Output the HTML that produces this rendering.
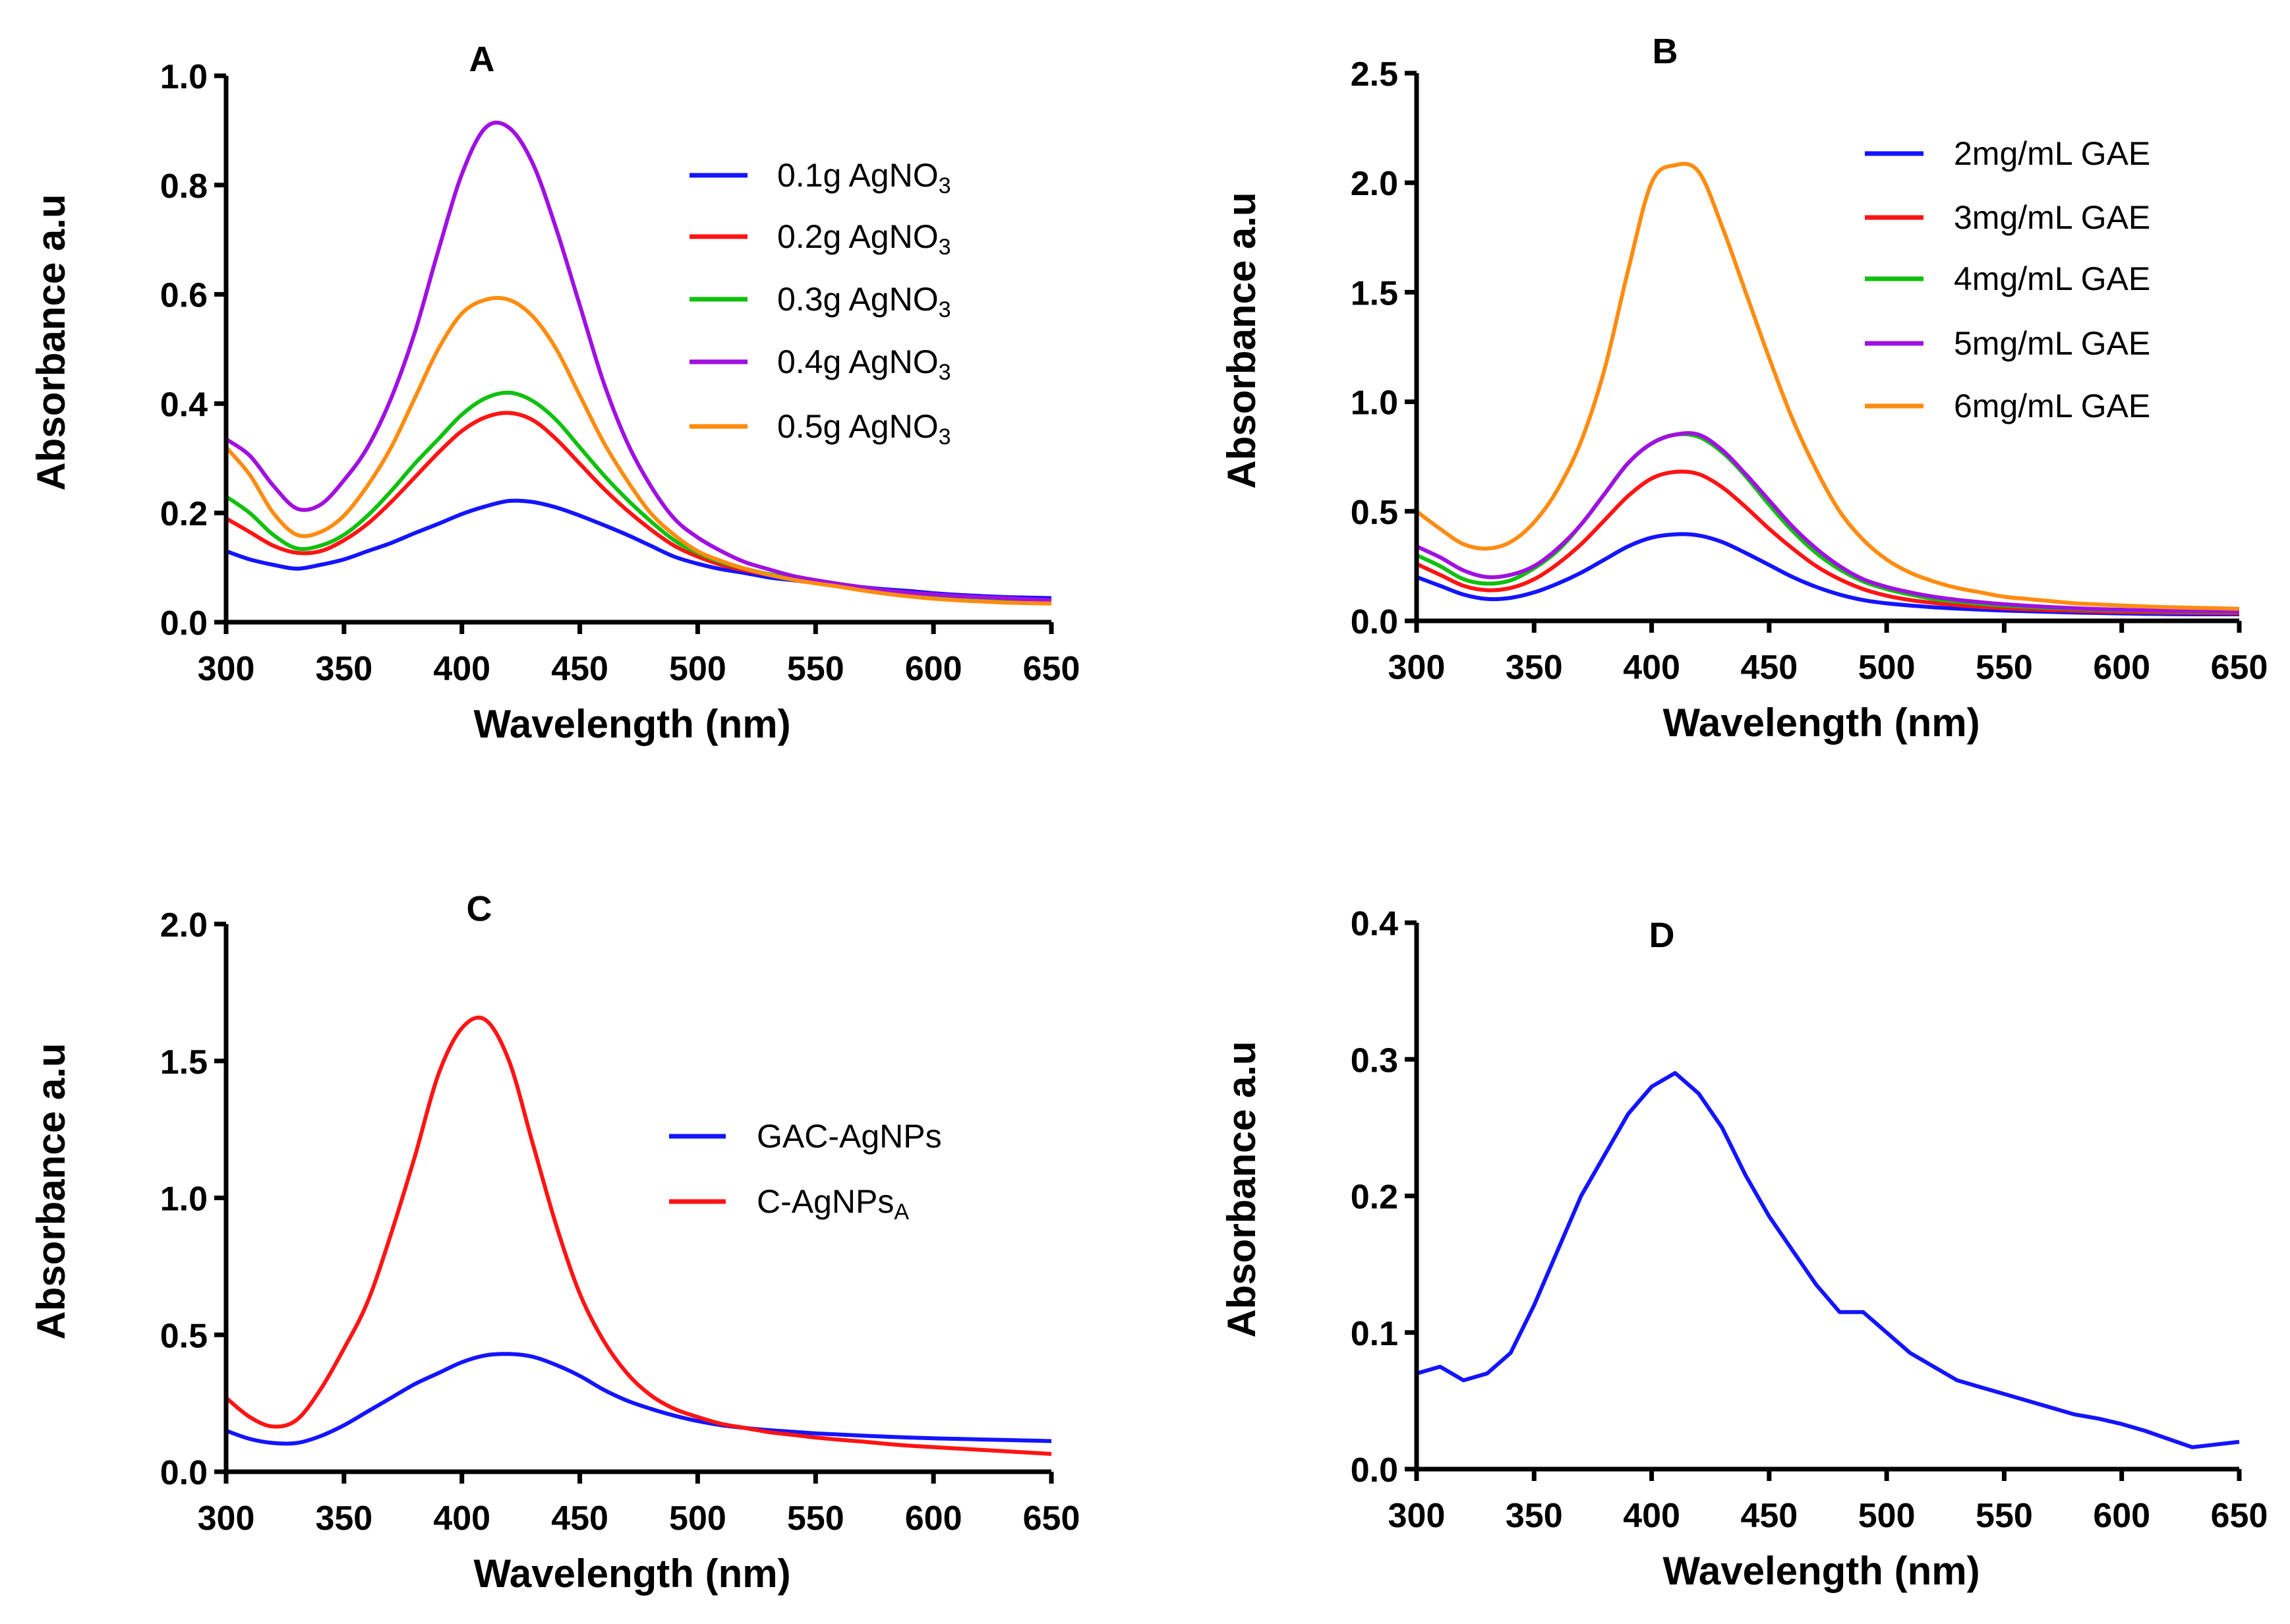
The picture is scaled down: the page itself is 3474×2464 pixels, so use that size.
<!DOCTYPE html>
<html><head><meta charset="utf-8">
<style>
html,body{margin:0;padding:0;background:#fff;}
svg{display:block;}
text{font-family:"Liberation Sans",Arial,sans-serif;fill:#000;}
</style></head>
<body>
<svg id="fig" width="3474" height="2464" viewBox="0 0 3474 2464" xmlns="http://www.w3.org/2000/svg"></svg>
<script>
const wavelengths = [300,310,320,330,340,350,360,370,380,390,400,410,420,430,440,450,460,470,480,490,500,510,520,530,540,550,560,570,580,590,600,610,620,630,640,650];
const xTicks = [300,350,400,450,500,550,600,650];

const aLabels = ["0.1g AgNO","0.2g AgNO","0.3g AgNO","0.4g AgNO","0.5g AgNO"];
const aColors = ["#1414ff","#ff1414","#10c010","#a010e0","#ff8c10"];
const a01 = [0.13,0.115,0.105,0.098,0.105,0.115,0.13,0.145,0.163,0.18,0.198,0.212,0.222,0.22,0.21,0.195,0.178,0.16,0.14,0.12,0.107,0.097,0.09,0.082,0.077,0.072,0.068,0.064,0.06,0.057,0.053,0.05,0.048,0.046,0.045,0.044];
const a02 = [0.19,0.165,0.14,0.127,0.13,0.15,0.18,0.22,0.265,0.31,0.35,0.375,0.383,0.37,0.335,0.29,0.245,0.205,0.17,0.14,0.12,0.105,0.095,0.087,0.08,0.073,0.068,0.062,0.058,0.054,0.05,0.047,0.045,0.043,0.041,0.04];
const a03 = [0.23,0.2,0.16,0.135,0.14,0.16,0.195,0.24,0.29,0.335,0.38,0.41,0.42,0.405,0.37,0.32,0.27,0.225,0.185,0.15,0.127,0.11,0.098,0.088,0.08,0.073,0.067,0.062,0.057,0.053,0.05,0.047,0.045,0.043,0.041,0.04];
const a04 = [0.335,0.305,0.25,0.208,0.215,0.26,0.32,0.41,0.53,0.68,0.82,0.905,0.905,0.84,0.72,0.58,0.44,0.33,0.25,0.19,0.155,0.13,0.11,0.097,0.085,0.077,0.07,0.064,0.058,0.054,0.051,0.048,0.046,0.044,0.042,0.04];
const a05 = [0.32,0.27,0.2,0.16,0.165,0.195,0.25,0.32,0.41,0.5,0.565,0.59,0.59,0.56,0.5,0.415,0.33,0.26,0.2,0.16,0.13,0.112,0.098,0.087,0.078,0.071,0.065,0.058,0.052,0.047,0.043,0.04,0.038,0.036,0.035,0.034];
const aTicks = [0,0.2,0.4,0.6,0.8,1.0];

const bLabels = ["2mg/mL GAE","3mg/mL GAE","4mg/mL GAE","5mg/mL GAE","6mg/mL GAE"];
const bColors = ["#1414ff","#ff1414","#10c010","#a010e0","#ff8c10"];
const b2 = [0.2,0.16,0.12,0.1,0.105,0.13,0.17,0.22,0.28,0.34,0.38,0.395,0.39,0.36,0.31,0.255,0.2,0.155,0.12,0.095,0.08,0.07,0.062,0.056,0.051,0.047,0.044,0.041,0.038,0.036,0.034,0.032,0.031,0.03,0.03,0.03];
const b3 = [0.26,0.21,0.16,0.14,0.15,0.19,0.26,0.35,0.46,0.57,0.65,0.68,0.67,0.61,0.52,0.42,0.33,0.25,0.19,0.145,0.115,0.095,0.082,0.072,0.064,0.058,0.053,0.049,0.046,0.043,0.041,0.039,0.038,0.037,0.036,0.035];
const b4 = [0.3,0.25,0.19,0.17,0.185,0.24,0.32,0.44,0.58,0.72,0.81,0.85,0.84,0.77,0.66,0.53,0.41,0.31,0.235,0.18,0.145,0.12,0.1,0.088,0.078,0.07,0.064,0.059,0.055,0.051,0.048,0.046,0.044,0.043,0.042,0.041];
const b5 = [0.34,0.29,0.23,0.2,0.21,0.25,0.33,0.44,0.58,0.72,0.81,0.85,0.85,0.78,0.67,0.55,0.43,0.33,0.25,0.19,0.155,0.13,0.11,0.096,0.085,0.076,0.069,0.063,0.058,0.054,0.051,0.048,0.046,0.045,0.044,0.043];
const b6 = [0.5,0.42,0.35,0.33,0.36,0.45,0.6,0.82,1.15,1.6,2.0,2.08,2.05,1.8,1.5,1.2,0.92,0.69,0.5,0.37,0.28,0.22,0.18,0.15,0.13,0.11,0.1,0.09,0.08,0.075,0.07,0.066,0.062,0.06,0.058,0.055];
const bTicks = [0,0.5,1.0,1.5,2.0,2.5];

const cLabels = ["GAC-AgNPs","C-AgNPs"];
const cColors = ["#1414ff","#ff1414"];
const cGac = [0.15,0.12,0.105,0.105,0.13,0.17,0.22,0.27,0.32,0.36,0.4,0.425,0.43,0.42,0.39,0.35,0.3,0.26,0.23,0.205,0.185,0.17,0.16,0.152,0.146,0.14,0.136,0.132,0.128,0.125,0.122,0.12,0.118,0.116,0.114,0.112];
const cAg = [0.27,0.2,0.165,0.19,0.3,0.45,0.62,0.87,1.15,1.45,1.62,1.65,1.5,1.2,0.9,0.65,0.48,0.36,0.28,0.23,0.2,0.175,0.16,0.145,0.135,0.125,0.117,0.11,0.102,0.095,0.09,0.085,0.08,0.075,0.07,0.065];
const cTicks = [0,0.5,1.0,1.5,2.0];

const dVals = [0.07,0.075,0.065,0.07,0.085,0.12,0.16,0.2,0.23,0.26,0.28,0.29,0.275,0.25,0.215,0.185,0.16,0.135,0.115,0.115,0.1,0.085,0.075,0.065,0.06,0.055,0.05,0.045,0.04,0.037,0.033,0.028,0.022,0.016,0.018,0.02];
const dTicks = [0,0.1,0.2,0.3,0.4];

const NS = "http://www.w3.org/2000/svg";
const svg = document.getElementById('fig');
function mk(tag, attrs, parent){
  const e = document.createElementNS(NS, tag);
  for (const k in attrs) e.setAttribute(k, attrs[k]);
  (parent||svg).appendChild(e);
  return e;
}
function smoothPath(pts, smooth){
  let d = 'M' + pts[0][0].toFixed(1) + ',' + pts[0][1].toFixed(1);
  for (let i = 0; i < pts.length - 1; i++) {
    const p0 = pts[Math.max(0,i-1)], p1 = pts[i], p2 = pts[i+1], p3 = pts[Math.min(pts.length-1,i+2)];
    if (!smooth) { d += 'L' + p2[0].toFixed(1) + ',' + p2[1].toFixed(1); continue; }
    const c1x = p1[0] + (p2[0]-p0[0])/6, c1y = p1[1] + (p2[1]-p0[1])/6;
    const c2x = p2[0] - (p3[0]-p1[0])/6, c2y = p2[1] - (p3[1]-p1[1])/6;
    d += 'C' + c1x.toFixed(1)+','+c1y.toFixed(1)+' '+c2x.toFixed(1)+','+c2y.toFixed(1)+' '+p2[0].toFixed(1)+','+p2[1].toFixed(1);
  }
  return d;
}

function panel(cfg){
  const g = mk('g', {});
  
  
  const xS = v => cfg.x0 + (v - 300) / 350 * (cfg.x1 - cfg.x0);
  const yS = v => cfg.yb - v / cfg.ymax * (cfg.yb - cfg.yt);
  cfg.series.forEach((s, i) => {
    const pts = wavelengths.map((w, j) => [xS(w), yS(s.vals[j])]);
    const p = mk('path', {d: smoothPath(pts, cfg.smooth), fill: 'none', stroke: s.color, 'stroke-width': 6, 'stroke-linejoin': 'round'}, g);
    
    
  });
  const ax = mk('path', {d: `M${cfg.x0},${cfg.yt}L${cfg.x0},${cfg.yb}L${cfg.x1},${cfg.yb}`, fill: 'none', stroke: '#000', 'stroke-width': 7}, g);
  
  
  xTicks.forEach(t => {
    const x = xS(t);
    mk('line', {x1: x, x2: x, y1: cfg.yb, y2: cfg.yb + 18, stroke: '#000', 'stroke-width': 7}, g);
    const tx = mk('text', {x: x, y: cfg.yb + 88, 'text-anchor': 'middle', 'font-size': 52, 'font-weight': 'bold'}, g);
    tx.textContent = t;
    
    
  });
  cfg.yTicks.forEach(t => {
    const y = yS(t);
    mk('line', {x1: cfg.x0 - 18, x2: cfg.x0, y1: y, y2: y, stroke: '#000', 'stroke-width': 7}, g);
    const tx = mk('text', {x: cfg.x0 - 28, y: y + 19, 'text-anchor': 'end', 'font-size': 52, 'font-weight': 'bold'}, g);
    tx.textContent = t.toFixed(1);
    
    
  });
  const xt = mk('text', {x: (cfg.x0 + cfg.x1) / 2 - 10, y: cfg.yb + 175, 'text-anchor': 'middle', 'font-size': 60, 'font-weight': 'bold'}, g);
  xt.textContent = 'Wavelength (nm)';
  
  
  const yc = (cfg.yt + cfg.yb) / 2 - 10;
  const yx = cfg.x0 - 245;
  const yt = mk('text', {x: yx, y: yc, 'text-anchor': 'middle', 'font-size': 60, 'font-weight': 'bold', transform: `rotate(-90 ${yx} ${yc})`}, g);
  yt.textContent = 'Absorbance a.u';
  
  
  const tt = mk('text', {x: cfg.tx, y: cfg.ty, 'text-anchor': 'middle', 'font-size': 54, 'font-weight': 'bold'}, g);
  tt.textContent = cfg.id;
  
  
  if (cfg.legend) {
    cfg.legend.labels.forEach((lab, i) => {
      const y = cfg.legend.rows[i];
      const le = mk('g', {}, g);
      
      
      mk('line', {x1: cfg.legend.lx0, x2: cfg.legend.lx1, y1: y, y2: y, stroke: cfg.series[i].color, 'stroke-width': 7}, le);
      const t = mk('text', {x: cfg.legend.tx, y: y + 17, 'font-size': 50}, le);
      t.textContent = lab;
      if (cfg.legend.sub) {
        const s = mk('tspan', {'font-size': 34, dy: 10}, t);
        s.textContent = cfg.legend.sub[i];
      }
    });
  }
}

panel({id:'A', smooth:true, x0:343, x1:1595, yt:115, yb:944, ymax:1.0, yTicks:aTicks, tx:731, ty:108,
  series:[a01,a02,a03,a04,a05].map((v,i)=>({vals:v,color:aColors[i]})),
  legend:{labels:aLabels, sub:["3","3","3","3","3"], rows:[266,359,454,549,647], lx0:1046, lx1:1134, tx:1179}});
panel({id:'B', smooth:true, x0:2149, x1:3397, yt:111, yb:942, ymax:2.5, yTicks:bTicks, tx:2526, ty:96,
  series:[b2,b3,b4,b5,b6].map((v,i)=>({vals:v,color:bColors[i]})),
  legend:{labels:bLabels, rows:[233,330,423,521,616], lx0:2829, lx1:2918, tx:2964}});
panel({id:'C', smooth:true, x0:343, x1:1595, yt:1402, yb:2233, ymax:2.0, yTicks:cTicks, tx:727, ty:1397,
  series:[cGac,cAg].map((v,i)=>({vals:v,color:cColors[i]})),
  legend:{labels:cLabels, sub:["","A"], rows:[1724,1823], lx0:1015, lx1:1101, tx:1148}});
panel({id:'D', smooth:false, x0:2149, x1:3397, yt:1400, yb:2229, ymax:0.4, yTicks:dTicks, tx:2521, ty:1437,
  series:[{vals:dVals,color:'#1414ff'}]});
</script>
</body></html>
